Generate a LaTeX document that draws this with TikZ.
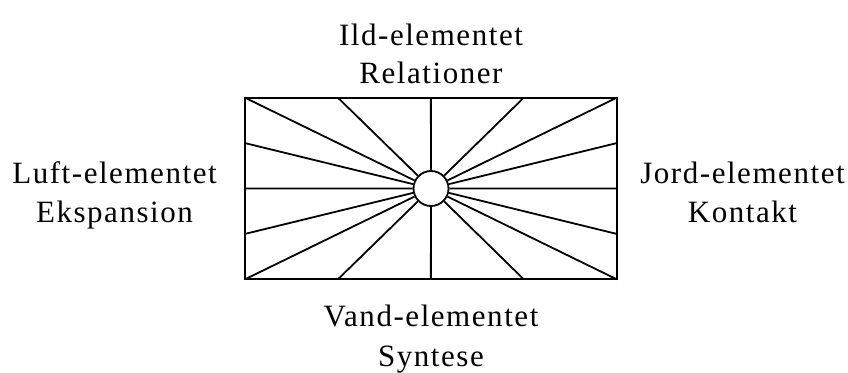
\documentclass[tikz,border=0pt]{standalone}
\usepackage{fontspec}
\setmainfont[LetterSpace=5]{Liberation Serif}
\begin{document}
\begin{tikzpicture}[x=1pt,y=-1pt,
  lbl/.style={anchor=base,inner sep=0pt,font=\fontsize{31}{31}\selectfont},
  ray/.style={line width=1.8pt},
  frame/.style={line width=2.2pt}]
\useasboundingbox (0,0) rectangle (848,372);
% frame corners
\coordinate (tl) at (245,97.7);
\coordinate (br) at (616.7,279.3);
\draw[frame] (tl) rectangle (br);
\node[circle,draw,line width=1.8pt,fill=white,minimum size=35pt,inner sep=0pt] (c) at (431,188.5) {};
% perimeter points
\foreach \i in {0,1,2,3,4}{
  \coordinate (t\i) at ({245+\i*92.925},97.7);
  \coordinate (b\i) at ({245+\i*92.925},279.3);
  \coordinate (l\i) at (245,{97.7+\i*45.4});
  \coordinate (r\i) at (616.7,{97.7+\i*45.4});
}
\foreach \p in {t0,t1,t2,t3,t4,b0,b1,b2,b3,b4,l1,l2,l3,r1,r2,r3}{
  \draw[ray] (c) -- (\p);
}
% labels
\node[lbl] (ild) at (431,45) {Ild-elementet};
\node[lbl] (rel) at (431,83.3) {Relationer};
\node[lbl] (luft) at (114.5,183.3) {Luft-elementet};
\node[lbl] (eks) at (114.5,222.7) {Ekspansion};
\node[lbl] (jord) at (742.5,183.3) {Jord-elementet};
\node[lbl] (kon) at (742.5,222.7) {Kontakt};
\node[lbl] (vand) at (431,326.7) {Vand-elementet};
\node[lbl] (syn) at (431,366) {Syntese};
\end{tikzpicture}
\end{document}
